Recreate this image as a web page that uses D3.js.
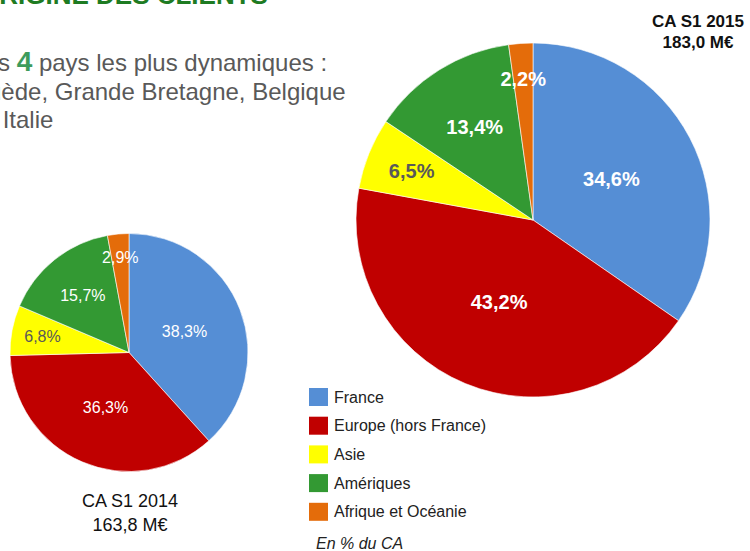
<!DOCTYPE html>
<html>
<head>
<meta charset="utf-8">
<script src="https://cdn.jsdelivr.net/npm/d3@7"></script>
<style>
  body { margin: 0; background: #fff; }
  svg { display: block; font-family: "Liberation Sans", Arial, sans-serif; }
</style>
</head>
<body>
<script>
// data
const categories = ["France", "Europe (hors France)", "Asie", "Amériques", "Afrique et Océanie"];
const values2014 = [38.3, 36.3, 6.8, 15.7, 2.9];
const values2015 = [34.6, 43.2, 6.5, 13.4, 2.2];
const titles2014 = ["CA S1 2014", "163,8 M€"];
const titles2015 = ["CA S1 2015", "183,0 M€"];
const introLines = ["Les ", "4", " pays les plus dynamiques :", "Suède, Grande Bretagne, Belgique", "et Italie"];

const width = 750, height = 551;
const svg = d3.select("body").append("svg")
  .attr("width", width)
  .attr("height", height);

const color = d3.scaleOrdinal()
  .domain(categories)
  .range(["#558ed5", "#c00000", "#ffff00", "#339933", "#e46c0a"]);

const fmt = v => d3.format(".1f")(v).replace(".", ",") + "%";

// header (cut off at the top of the slide)
svg.append("text")
  .attr("x", -21).attr("y", 4)
  .attr("font-size", 26).attr("font-weight", "bold")
  .attr("fill", "#1e7b22")
  .text("ORIGINE DES CLIENTS");

const intro = svg.append("g").attr("fill", "#595959").attr("font-size", 24);
const l1 = intro.append("text").attr("x", -28.7).attr("y", 71);
l1.append("tspan").text(introLines[0]);
l1.append("tspan").attr("font-size", 28).attr("font-weight", "bold").attr("fill", "#3d9b5c").text(introLines[1]);
l1.append("tspan").text(introLines[2]);
intro.append("text").attr("x", -28).attr("y", 100).text(introLines[3]);
intro.append("text").attr("x", -24).attr("y", 128).text(introLines[4]);

// label radius as share of radius, smaller slices push labels outward
function labelRatio(v) {
  if (v >= 30) return 0.5;
  if (v >= 10) return 0.62;
  if (v >= 5) return 0.74;
  return 0.8;
}

function drawPie(values, cx, cy, r, labelSize, labelWeight) {
  const g = svg.append("g").attr("transform", `translate(${cx},${cy})`);
  const pie = d3.pie().sort(null).value(d => d.value);
  const arcs = pie(values.map((v, i) => ({ value: v, cat: categories[i] })));
  const arc = d3.arc().innerRadius(0).outerRadius(r);

  g.selectAll("path.slice")
    .data(arcs)
    .enter().append("path")
    .attr("class", "slice")
    .attr("d", arc)
    .attr("fill", d => color(d.data.cat))
    .attr("stroke", "#ffffff")
    .attr("stroke-width", 0.6);

  g.selectAll("text.lbl")
    .data(arcs)
    .enter().append("text")
    .attr("class", "lbl")
    .attr("transform", d => {
      const rr = r * labelRatio(d.data.value);
      const c = d3.arc().innerRadius(rr).outerRadius(rr).centroid(d);
      return `translate(${c[0]},${c[1]})`;
    })
    .attr("text-anchor", "middle")
    .attr("dy", "0.36em")
    .attr("font-size", labelSize)
    .attr("font-weight", labelWeight)
    .attr("fill", d => d.data.cat === "Asie" ? "#595959" : "#ffffff")
    .text(d => fmt(d.data.value));
}

drawPie(values2014, 129, 352.5, 119, 16, "normal");
drawPie(values2015, 533, 220, 177, 20, "bold");

// chart titles
svg.append("g").attr("font-size", 18).attr("fill", "#111").attr("text-anchor", "middle")
  .selectAll("text").data(titles2014).enter().append("text")
  .attr("x", 130).attr("y", (d, i) => 507 + i * 24)
  .text(d => d);

svg.append("g").attr("font-size", 17).attr("font-weight", "bold").attr("fill", "#111").attr("text-anchor", "middle")
  .selectAll("text").data(titles2015).enter().append("text")
  .attr("x", 698).attr("y", (d, i) => 27 + i * 21)
  .text(d => d);

// legend
const legend = svg.append("g").attr("transform", "translate(309,388)");
const item = legend.selectAll("g").data(categories).enter().append("g")
  .attr("transform", (d, i) => `translate(0,${i * 28.7})`);
item.append("rect").attr("width", 19).attr("height", 18).attr("fill", d => color(d));
item.append("text").attr("x", 25).attr("y", 9).attr("dy", "0.35em")
  .attr("font-size", 16).attr("fill", "#222").text(d => d);

svg.append("text")
  .attr("x", 316).attr("y", 549)
  .attr("font-size", 16).attr("font-style", "italic").attr("fill", "#222")
  .text("En % du CA");
</script>
</body>
</html>
